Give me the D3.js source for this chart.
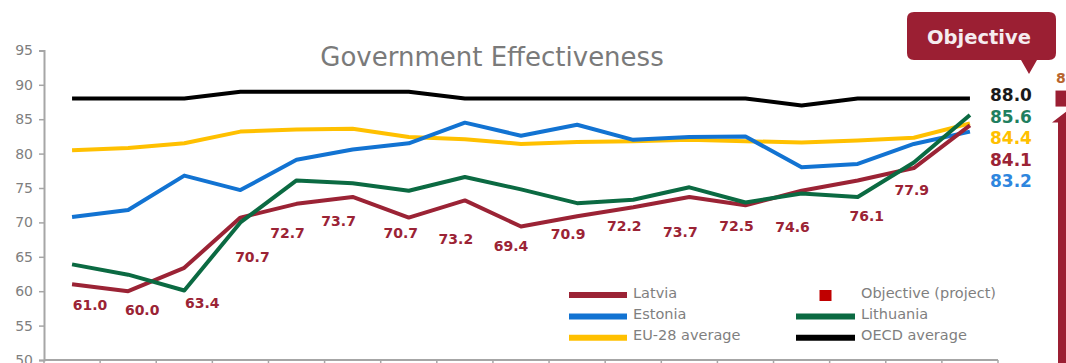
<!DOCTYPE html>
<html>
<head>
<meta charset="utf-8">
<script src="https://cdn.jsdelivr.net/npm/d3@7"></script>
<style>
  html, body { margin: 0; padding: 0; background: #ffffff; }
  svg { display: block; font-family: "DejaVu Sans", Verdana, sans-serif; }
</style>
</head>
<body>
<svg id="chart" width="1066" height="363"></svg>
<script>
// Governance indicator, percentile scores by year
const years = ["1996", "1998", "2000", "2002", "2003", "2004", "2005", "2006", "2007",
               "2008", "2009", "2010", "2011", "2012", "2013", "2014", "2015"];
const latvia    = [61.0, 60.0, 63.4, 70.7, 72.7, 73.7, 70.7, 73.2, 69.4, 70.9, 72.2, 73.7, 72.5, 74.6, 76.1, 77.9, 84.1];
const estonia   = [70.8, 71.8, 76.8, 74.7, 79.1, 80.6, 81.5, 84.5, 82.6, 84.2, 82.0, 82.4, 82.5, 78.0, 78.5, 81.4, 83.2];
const lithuania = [63.9, 62.4, 60.1, 70.0, 76.1, 75.7, 74.6, 76.6, 74.8, 72.8, 73.3, 75.1, 72.9, 74.2, 73.7, 78.7, 85.6];
const eu28      = [80.5, 80.8, 81.5, 83.2, 83.5, 83.6, 82.4, 82.1, 81.4, 81.7, 81.8, 82.0, 81.8, 81.6, 81.9, 82.3, 84.4];
const oecd      = [88.0, 88.0, 88.0, 89.0, 89.0, 89.0, 89.0, 88.0, 88.0, 88.0, 88.0, 88.0, 88.0, 87.0, 88.0, 88.0, 88.0];
const objectiveCategory = ["2020"];
const objectiveValue = [88.0];
const yTicks = [50, 55, 60, 65, 70, 75, 80, 85, 90, 95];

// Offsets of the Latvia value labels from their points (last one is shown at the line end)
const labelDx = [18, 14, 18, 12, -9, -14, -8, -9, -10, -9, -9, -9, -9, -9, 9, -2];
const labelDy = [21, 19, 35, 39, 29, 24, 15, 39, 19, 18, 19, 35, 21, 36, 36, 22];

const series = [
  { name: "Latvia",      values: latvia,    color: "#9b2335", endColor: "#9b2335" },
  { name: "Estonia",     values: estonia,   color: "#1273d2", endColor: "#2e86de" },
  { name: "EU-28 average", values: eu28,    color: "#ffc000", endColor: "#ffc000" },
  { name: "Lithuania",   values: lithuania, color: "#0b6a42", endColor: "#1f7f5f" },
  { name: "OECD average", values: oecd,     color: "#000000", endColor: "#1a1a1a" }
];
const drawOrder = ["OECD average", "EU-28 average", "Estonia", "Latvia", "Lithuania"];

const svg = d3.select("#chart");
const axisColor = "#a6a6a6";
const textGray = "#7f7f7f";

const x = d3.scaleBand().domain(years).range([44, 998]);
const y = d3.scaleLinear().domain([50, 95]).range([360, 50.4]);
const xObj = d3.scaleBand().domain(objectiveCategory).range([1047, 1081]);
const cx = d => x(d) + x.bandwidth() / 2;

// Title
svg.append("text")
  .attr("x", 492).attr("y", 66)
  .attr("text-anchor", "middle")
  .attr("fill", "#7a7a7a")
  .style("font-size", "26px")
  .text("Government Effectiveness");

// Y axis
const yAxis = svg.append("g").attr("transform", "translate(44,0)")
  .call(d3.axisLeft(y).tickValues(yTicks).tickSize(5).tickPadding(6).tickFormat(d3.format("d")));
yAxis.select(".domain").attr("stroke", axisColor).attr("stroke-width", 2);
yAxis.selectAll(".tick line").attr("stroke", axisColor).attr("stroke-width", 1.5);
yAxis.selectAll(".tick text").attr("fill", textGray).style("font-size", "14px")
  .style("font-family", "'DejaVu Sans', Verdana, sans-serif");

// X axis: tick marks at category boundaries, below the baseline
const xg = svg.append("g");
xg.append("line")
  .attr("x1", x.range()[0]).attr("x2", x.range()[1])
  .attr("y1", y(50)).attr("y2", y(50))
  .attr("stroke", axisColor).attr("stroke-width", 2);
xg.selectAll("line.tick")
  .data(years.map(d => x(d) + x.bandwidth()).concat([x.range()[0]]))
  .join("line").attr("class", "tick")
  .attr("x1", d => d).attr("x2", d => d)
  .attr("y1", y(50)).attr("y2", y(50) + 6)
  .attr("stroke", axisColor).attr("stroke-width", 1.5);

// Lines
const line = d3.line().x((d, i) => cx(years[i])).y(d => y(d));
drawOrder.forEach(name => {
  const s = series.find(t => t.name === name);
  svg.append("path")
    .datum(s.values)
    .attr("fill", "none")
    .attr("stroke", s.color)
    .attr("stroke-width", 4)
    .attr("stroke-linejoin", "round")
    .attr("d", line);
});

// Latvia value labels
svg.append("g").selectAll("text")
  .data(latvia.slice(0, latvia.length - 1))
  .join("text")
  .attr("x", (d, i) => cx(years[i]) + labelDx[i])
  .attr("y", (d, i) => y(d) + labelDy[i])
  .attr("text-anchor", "middle")
  .attr("dominant-baseline", "central")
  .attr("fill", "#9b2335")
  .style("font-size", "14px")
  .style("font-weight", "bold")
  .text(d => d.toFixed(1));

// End-of-line values, stacked in descending order
const ends = series.map(s => ({ v: s.values[s.values.length - 1], color: s.endColor }))
  .sort((a, b) => b.v - a.v);
const endTop = y(ends[0].v) - 3.5;
svg.append("g").selectAll("text")
  .data(ends)
  .join("text")
  .attr("x", 990)
  .attr("y", (d, i) => endTop + i * 21.6)
  .attr("dominant-baseline", "central")
  .attr("fill", d => d.color)
  .style("font-size", "17px")
  .style("font-weight", "bold")
  .text(d => d.v.toFixed(1));

// Objective marker, its value and the upward arrow
const ox = xObj(objectiveCategory[0]) + xObj.bandwidth() / 2;
const oy = y(objectiveValue[0]);
const objColor = "#9b1f33";
svg.append("rect")
  .attr("x", ox - 8.5).attr("y", oy - 8)
  .attr("width", 17).attr("height", 16)
  .attr("fill", objColor);
svg.append("text")
  .attr("x", ox - 8).attr("y", oy - 21)
  .attr("dominant-baseline", "central")
  .attr("fill", "#b8652e")
  .style("font-size", "14px")
  .style("font-weight", "bold")
  .text(objectiveValue[0].toFixed(1));
const ax = ox + 6, aTop = oy + 10, aBase = oy + 24, aBottom = 370;
svg.append("path")
  .attr("d", `M${ax},${aTop} L${ax + 18},${aBase} L${ax + 12},${aBase} L${ax + 12},${aBottom}
              L${ax - 12},${aBottom} L${ax - 12},${aBase} L${ax - 18},${aBase} Z`)
  .attr("fill", objColor);

// Callout
const bx0 = 907, bx1 = 1056, by0 = 12, by1 = 60, r = 7;
svg.append("path")
  .attr("d", `M${bx0 + r},${by0} H${bx1 - r} Q${bx1},${by0} ${bx1},${by0 + r} V${by1 - r}
              Q${bx1},${by1} ${bx1 - r},${by1} H1037 L1029,74 L1021,${by1} H${bx0 + r}
              Q${bx0},${by1} ${bx0},${by1 - r} V${by0 + r} Q${bx0},${by0} ${bx0 + r},${by0} Z`)
  .attr("fill", objColor);
svg.append("text")
  .attr("x", 979).attr("y", 37)
  .attr("text-anchor", "middle")
  .attr("dominant-baseline", "central")
  .attr("fill", "#f5ecef")
  .style("font-size", "19.5px")
  .style("font-weight", "bold")
  .text("Objective");

// Legend
const legend = svg.append("g").style("font-size", "14.5px").attr("fill", textGray);
const legendItems = [
  { name: "Latvia", color: "#9b2335", col: 0, row: 0, kind: "line" },
  { name: "Estonia", color: "#1273d2", col: 0, row: 1, kind: "line" },
  { name: "EU-28 average", color: "#ffc000", col: 0, row: 2, kind: "line" },
  { name: "Objective (project)", color: "#c00000", col: 1, row: 0, kind: "square" },
  { name: "Lithuania", color: "#0b6a42", col: 1, row: 1, kind: "line" },
  { name: "OECD average", color: "#000000", col: 1, row: 2, kind: "line" }
];
const colLine = [[569, 627], [796, 855]];
const colText = [633, 861];
legendItems.forEach(it => {
  const ly = 295 + it.row * 21.4;
  if (it.kind === "line") {
    legend.append("line")
      .attr("x1", colLine[it.col][0]).attr("x2", colLine[it.col][1])
      .attr("y1", ly).attr("y2", ly)
      .attr("stroke", it.color).attr("stroke-width", 6);
  } else {
    legend.append("rect")
      .attr("x", 819.5).attr("y", ly - 5).attr("width", 12).attr("height", 11)
      .attr("fill", it.color);
  }
  legend.append("text")
    .attr("x", colText[it.col]).attr("y", ly - 2.5)
    .attr("dominant-baseline", "central")
    .text(it.name);
});
</script>
</body>
</html>
